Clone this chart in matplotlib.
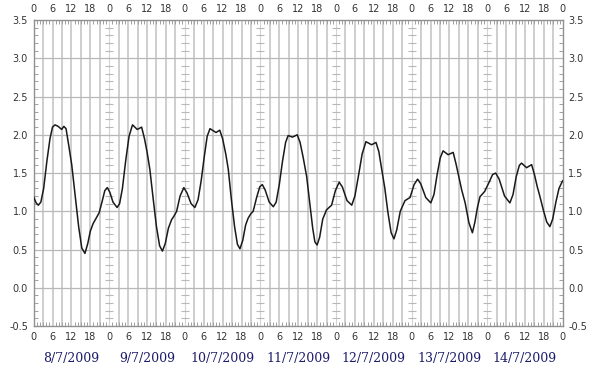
import matplotlib
matplotlib.use("Agg")
import matplotlib.pyplot as plt
import numpy as np

# ---- data (hours since 8/7/2009 00:00, tide level) ----
hours = [0, 0.8, 1.5, 2.3, 3.2, 4.2, 5.2, 6.0, 6.8, 7.8, 8.9, 9.6, 10.3, 11.2, 12.1,
         13.2, 14.3, 15.3, 16.3, 17.2, 18.0, 18.9, 20.0, 20.8, 21.7, 22.6, 23.4,
         24.2, 25.2, 26.5, 27.3, 28.2, 29.2, 30.3, 31.4, 32.9, 34.3, 35.2, 36.0,
         36.9, 38.0, 39.0, 40.0, 40.9, 41.8, 42.8, 43.8, 44.6, 45.4, 46.5, 47.7,
         48.7, 50.0, 51.2, 52.2, 53.2, 54.2, 55.1, 56.0, 57.9, 59.1, 60.0, 61.0,
         61.8, 62.8, 63.8, 64.7, 65.5, 66.4, 67.3, 68.1, 69.0, 69.7, 70.8, 71.8,
         72.6, 73.5, 74.8, 76.1, 77.0, 78.0, 79.0, 80.0, 80.8, 82.2, 83.7, 84.6,
         85.6, 86.7, 87.7, 88.6, 89.3, 90.0, 90.8, 91.8, 93.0, 94.6, 95.8, 97.0,
         98.0, 99.5, 101.0, 102.0, 103.2, 104.3, 105.5, 107.3, 108.7, 109.6, 110.5,
         111.5, 112.5, 113.5, 114.4, 115.3, 116.4, 117.9, 119.5, 120.8, 121.9,
         122.9, 124.5, 126.1, 127.1, 128.1, 129.1, 130.0, 131.6, 133.2, 134.1,
         135.0, 135.9, 137.0, 138.2, 139.3, 140.1, 140.9, 141.7, 143.2, 144.6,
         145.7, 146.7, 147.8, 149.5, 151.2, 152.2, 153.2, 154.2, 154.9, 156.5,
         158.1, 159.0, 159.9, 160.7, 161.8, 162.9, 163.9, 164.8, 165.8, 166.8,
         167.6, 168.0]
levels = [1.19, 1.11, 1.08, 1.12, 1.30, 1.65, 1.95, 2.10, 2.13, 2.11, 2.07, 2.11, 2.08, 1.85, 1.61,
          1.20, 0.80, 0.52, 0.45, 0.58, 0.74, 0.84, 0.92, 0.98, 1.12, 1.27, 1.31,
          1.25, 1.12, 1.05, 1.10, 1.30, 1.65, 1.98, 2.13, 2.07, 2.10, 1.95, 1.78,
          1.55, 1.15, 0.80, 0.55, 0.48, 0.58, 0.78, 0.89, 0.94, 1.00, 1.20, 1.31,
          1.24, 1.10, 1.05, 1.15, 1.40, 1.72, 1.98, 2.08, 2.03, 2.06, 1.95, 1.75,
          1.55, 1.15, 0.80, 0.57, 0.51, 0.62, 0.82, 0.91, 0.97, 1.00, 1.18, 1.32,
          1.35, 1.28, 1.12, 1.06, 1.12, 1.35, 1.65, 1.90, 1.99, 1.97, 2.00, 1.90,
          1.70, 1.45, 1.10, 0.78, 0.60, 0.56, 0.66, 0.90, 1.02, 1.08, 1.27, 1.38,
          1.32, 1.14, 1.08, 1.20, 1.48, 1.75, 1.91, 1.87, 1.90, 1.78, 1.55,
          1.30, 0.98, 0.72, 0.64, 0.76, 1.00, 1.14, 1.18, 1.35, 1.42,
          1.36, 1.18, 1.11, 1.22, 1.48, 1.70, 1.79, 1.74, 1.77, 1.62,
          1.45, 1.28, 1.11, 0.85, 0.72, 0.86, 1.05, 1.19, 1.26, 1.38,
          1.48, 1.50, 1.42, 1.20, 1.11, 1.22, 1.45, 1.60, 1.63, 1.57,
          1.61, 1.48, 1.32, 1.20, 1.02, 0.86, 0.80, 0.90, 1.12, 1.30,
          1.37, 1.40]
dates = ['8/7/2009', '9/7/2009', '10/7/2009', '11/7/2009', '12/7/2009',
         '13/7/2009', '14/7/2009']
hour_labels = ['0', '6', '12', '18']
y_ticks = [-0.5, 0.0, 0.5, 1.0, 1.5, 2.0, 2.5, 3.0, 3.5]

n_days = len(dates)
fig = plt.figure(figsize=(6.0, 3.85), dpi=100)
ax = fig.add_axes([0.056, 0.153, 0.882, 0.795])
ax.set_xlim(0, 24 * n_days)
ax.set_ylim(-0.5, 3.5)

# grid: vertical every 3 hours, day lines lighter with cross dashes
for h in range(3, 24 * n_days, 3):
    if h % 24 == 0:
        ax.axvline(h, color='#d4d4d4', lw=0.8, zorder=1)
        yy = np.arange(-0.4, 3.45, 0.1)
        ax.plot([h] * len(yy), yy, linestyle='none', marker='_', markersize=6,
                markeredgewidth=0.8, color='#b8b8b8', zorder=1)
    else:
        ax.axvline(h, color='#cacaca', lw=1.3, zorder=1)
for v in y_ticks[1:-1]:
    ax.axhline(v, color='#b8b8b8', lw=0.9, zorder=1)

ax.plot(hours, levels, color='#1a1a1a', lw=1.1, zorder=3,
        solid_joinstyle='round')

# ticks
xt = list(range(0, 24 * n_days + 1, 6))
ax.set_xticks(xt)
ax.set_xticklabels([hour_labels[(t // 6) % 4] for t in xt])
ax.set_xticks(range(0, 24 * n_days + 1), minor=True)
ax.set_yticks(y_ticks)
ax.set_yticklabels([f'{v:.1f}' for v in y_ticks])
ax.set_yticks(np.arange(-0.5, 3.51, 0.1), minor=True)
ax.tick_params(which='both', direction='in', top=True, right=True,
               labeltop=True, labelright=True, color='#a0a0a0')
ax.tick_params(which='major', length=0, labelsize=7, labelcolor='#333333', pad=4)
ax.tick_params(which='minor', length=3, width=0.7)
for s in ax.spines.values():
    s.set_color('#909090')
    s.set_linewidth(1.0)

# date labels
for i, d in enumerate(dates):
    ax.text(24 * i + 12, -0.93, d, ha='center', va='center',
            family='DejaVu Serif', fontsize=9, color='#1c1c6a')

fig.savefig('out.png', dpi=100, facecolor='white')
